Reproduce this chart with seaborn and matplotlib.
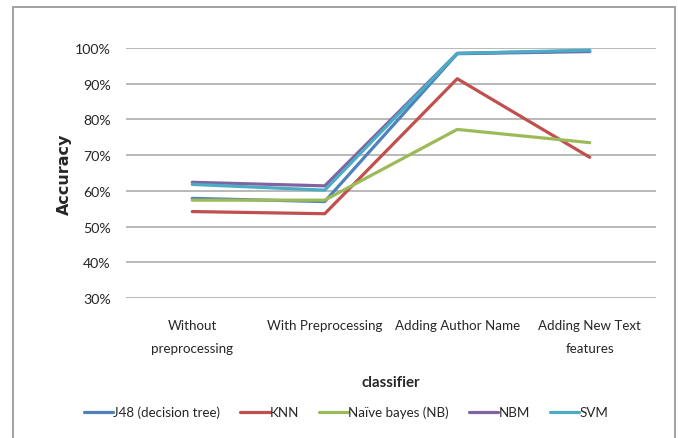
import matplotlib
matplotlib.use("Agg")
import matplotlib.pyplot as plt
import matplotlib.patches as mpatches
import seaborn as sns
import pandas as pd

# Accuracy of each classifier across the four experiment stages
stages = ["Without\npreprocessing", "With Preprocessing",
          "Adding Author Name", "Adding New Text\nfeatures"]
classifiers = ["J48 (decision tree)", "KNN", "Naïve bayes (NB)", "NBM", "SVM"]
j48 = [57.9, 57.0, 98.4, 99.0]
knn = [54.2, 53.6, 91.4, 69.4]
naive_bayes = [57.4, 57.4, 77.2, 73.5]
nbm = [62.4, 61.4, 98.5, 99.2]
svm = [61.8, 60.2, 98.5, 99.4]
colors = ["#4F81BD", "#C0504D", "#9BBB59", "#8064A2", "#4BACC6"]

series = [j48, knn, naive_bayes, nbm, svm]
rows = []
for name, vals in zip(classifiers, series):
    for stage, v in zip(stages, vals):
        rows.append({"classifier": name, "stage": stage, "accuracy": v})
df = pd.DataFrame(rows)

sns.set_theme(style="white")
plt.rcParams["font.family"] = ["Lato", "DejaVu Sans"]
text_color = "#262626"
fs = 9.6

fig = plt.figure(figsize=(6.78, 4.39), dpi=100)
ax = fig.add_axes([126 / 678, 1 - 299 / 439, 530 / 678, 250 / 439])

sns.lineplot(data=df, x="stage", y="accuracy", hue="classifier",
             hue_order=classifiers, palette=colors, sort=False,
             linewidth=2.3, ax=ax, legend=True)

ax.set_xlim(-0.5, 3.5)
ax.set_ylim(30, 100)
ax.set_yticks(range(30, 101, 10))
ax.set_yticklabels([f"{t}%" for t in range(30, 101, 10)])
ax.yaxis.grid(True, color="#a6a6a6", linewidth=1.1)
ax.xaxis.grid(False)
for s in ax.spines.values():
    s.set_visible(False)
ax.set_axisbelow(True)
ax.tick_params(axis="both", length=0, labelsize=fs, colors=text_color)
ax.tick_params(axis="y", labelsize=fs + 0.6, pad=11)
ax.tick_params(axis="x", pad=15)
for lab in ax.get_xticklabels():
    lab.set_linespacing(2.1)

ax.set_xlabel("classifier", fontsize=fs + 1.2, fontweight="bold", color=text_color)
ax.xaxis.set_label_coords(0.5, -(383 - 299) / 250)
ax.xaxis.label.set_va("center")
ax.set_ylabel("Accuracy", fontsize=11.5, fontweight="bold",
              family=["DejaVu Sans"], color=text_color, labelpad=2)

handles, labels = ax.get_legend_handles_labels()
ax.legend(handles, labels, loc="center", bbox_to_anchor=(346 / 678, 1 - 413 / 439),
          bbox_transform=fig.transFigure, ncol=5, frameon=False,
          fontsize=fs, handlelength=2.2, handletextpad=0.0,
          columnspacing=1.5, labelcolor=text_color)

# outer chart border
fig.patches.append(mpatches.Rectangle((12.5 / 678, -0.05), (675 - 12.5) / 678,
                                      1.05 - 7.5 / 439, transform=fig.transFigure,
                                      fill=False, edgecolor="#9a9a9a", linewidth=1.3))

fig.savefig("out.png", dpi=100)
